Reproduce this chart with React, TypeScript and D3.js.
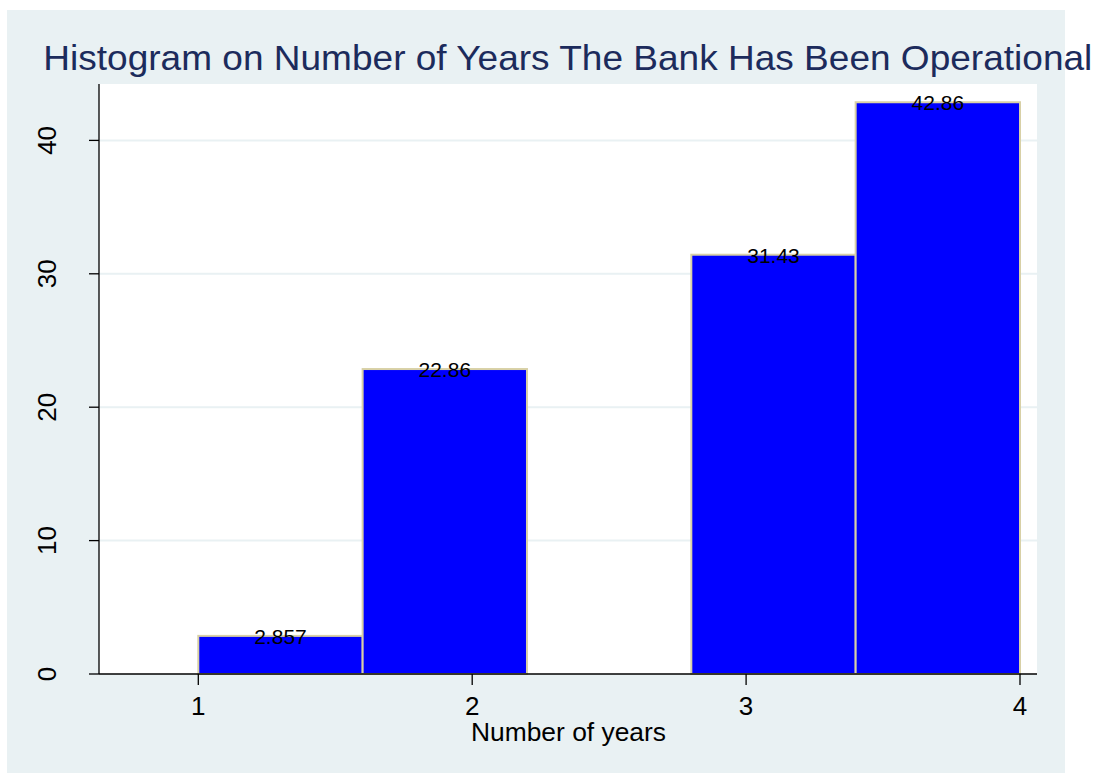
import React from "react";
import * as d3 from "d3";

const binStarts = [1, 1.6, 2.2, 2.8, 3.4];
const binWidth = 0.6;
const percents = [2.857, 22.86, 0, 31.43, 42.86];
const barLabels = ["2.857", "22.86", "", "31.43", "42.86"];
const xTicks = [1, 2, 3, 4];
const yTicks = [0, 10, 20, 30, 40];
const title = "Histogram on Number of Years The Bank Has Been Operational";
const xTitle = "Number of years";

const W = 1101;
const H = 773;
const bg = "#e9f1f3";
const plot = { left: 99, right: 1037, top: 84, bottom: 674 };

export default function App() {
  const x = d3.scaleLinear().domain([1, 4]).range([198.3, 1020]);
  const y = d3.scaleLinear().domain([0, 40]).range([674, 140.4]);
  const font = "'Liberation Sans', Arial, sans-serif";

  return (
    <svg
      width={W}
      height={H}
      style={{ position: "absolute", left: 0, top: 0 }}
      fontFamily={font}
    >
      <rect x={0} y={0} width={W} height={H} fill="#ffffff" />
      <rect x={7} y={10} width={1058} height={H - 10} fill={bg} />
      <rect
        x={plot.left}
        y={plot.top}
        width={plot.right - plot.left}
        height={plot.bottom - plot.top}
        fill="#ffffff"
      />
      {yTicks.slice(1).map((t) => (
        <line
          key={"g" + t}
          x1={plot.left}
          x2={plot.right}
          y1={y(t)}
          y2={y(t)}
          stroke={bg}
          strokeWidth={2}
        />
      ))}
      {percents.map((v, i) =>
        v > 0 ? (
          <rect
            key={"b" + i}
            x={x(binStarts[i])}
            y={y(v)}
            width={x(binStarts[i] + binWidth) - x(binStarts[i])}
            height={y(0) - y(v)}
            fill="#0000ff"
            stroke="#d8d0a6"
            strokeWidth={2}
          />
        ) : null
      )}
      {percents.map((v, i) =>
        barLabels[i] ? (
          <text
            key={"l" + i}
            x={x(binStarts[i] + binWidth / 2)}
            y={y(v) + 8}
            textAnchor="middle"
            fontSize={21}
            fill="#000"
          >
            {barLabels[i]}
          </text>
        ) : null
      )}
      <line x1={plot.left} x2={plot.right} y1={plot.bottom} y2={plot.bottom} stroke="#000" strokeWidth={1.3} />
      <line x1={plot.left} x2={plot.left} y1={plot.top} y2={plot.bottom} stroke="#000" strokeWidth={1.3} />
      {yTicks.map((t) => (
        <g key={"yt" + t}>
          <line x1={89} x2={plot.left} y1={y(t)} y2={y(t)} stroke="#000" strokeWidth={1.3} />
          <text
            transform={`translate(56,${y(t)}) rotate(-90)`}
            textAnchor="middle"
            fontSize={26}
            fill="#000"
          >
            {t}
          </text>
        </g>
      ))}
      {xTicks.map((t) => (
        <g key={"xt" + t}>
          <line x1={x(t)} x2={x(t)} y1={plot.bottom} y2={685} stroke="#000" strokeWidth={1.3} />
          <text x={x(t)} y={715} textAnchor="middle" fontSize={26} fill="#000">
            {t}
          </text>
        </g>
      ))}
      <text x={568.5} y={741} textAnchor="middle" fontSize={26.4} fill="#000">
        {xTitle}
      </text>
      <text
        x={43.3}
        y={70}
        fontSize={35}
        fill="#1c2b5c"
        textLength={1049}
        lengthAdjust="spacingAndGlyphs"
      >
        {title}
      </text>
    </svg>
  );
}
